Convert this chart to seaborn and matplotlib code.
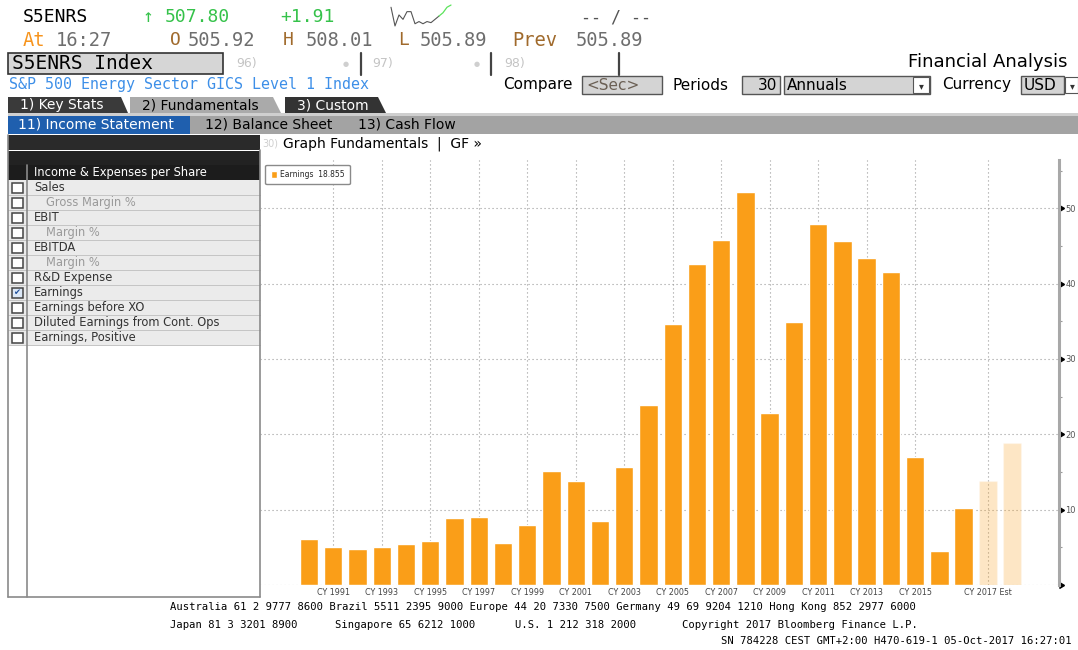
"""
S5ENRS Index - Financial Analysis (Earnings per share, annual)
Recreación de la pantalla de Bloomberg con seaborn + matplotlib.
Salida: out.png
"""

import matplotlib
matplotlib.use('Agg')
import matplotlib.pyplot as plt
import matplotlib.markers as mmarkers
from matplotlib.patches import Rectangle, Polygon, Patch
import pandas as pd
import seaborn as sns

# ── Datos ─────────────────────────────────────────────────────────────────────
YEARS = list(range(1990, 2020))
EPS = [6.1, 5.0, 4.8, 5.0, 5.4, 5.8, 8.9, 9.0, 5.6, 8.0,
       15.1, 13.8, 8.5, 15.6, 23.9, 34.6, 42.6, 45.8, 52.1, 22.8,
       34.9, 47.9, 45.6, 43.4, 41.6, 17.0, 4.5, 10.2, 13.8, 18.855]
KIND = ['Actual'] * 28 + ['Est'] * 2

TICK_YEARS = [1991, 1993, 1995, 1997, 1999, 2001, 2003, 2005, 2007,
              2009, 2011, 2013, 2015, 2018]
TICK_LABELS = ['CY 1991', 'CY 1993', 'CY 1995', 'CY 1997', 'CY 1999',
               'CY 2001', 'CY 2003', 'CY 2005', 'CY 2007', 'CY 2009',
               'CY 2011', 'CY 2013', 'CY 2015', 'CY 2017 Est']
Y_MAJOR = [0, 10, 20, 30, 40, 50]
Y_MINOR = [5, 15, 25, 35, 45, 55]

# mini gráfico intradía de la cabecera
SPARK = [22, 5, 15, 11, 18, 18, 7, 9, 7, 9, 8, 11, 14]
SPARK_LIVE = [14, 17, 22, 24]

MENU = [('Sales', True), ('Gross Margin %', False), ('EBIT', True),
        ('Margin %', False), ('EBITDA', True), ('Margin %', False),
        ('R&D Expense', True), ('Earnings', True), ('Earnings before XO', True),
        ('Diluted Earnings from Cont. Ops', True), ('Earnings, Positive', True)]
CHECKED = 'Earnings'

ORANGE = '#FA9E18'
GREEN = '#35C24A'
BROWN = '#A06A2C'
GREYTXT = '#6E6E6E'
SANS = 'DejaVu Sans'
MONO = 'DejaVu Sans Mono'

W, H = 1078, 650

sns.set_theme(style='white')
plt.rcParams['font.family'] = [SANS]

fig = plt.figure(figsize=(W / 100, H / 100), dpi=100, facecolor='white')

# capa de interfaz en coordenadas de píxel
ov = fig.add_axes([0, 0, 1, 1], zorder=0)
ov.set_xlim(0, W)
ov.set_ylim(H, 0)
ov.axis('off')


def box(x0, y0, x1, y1, fc, ec='none', lw=0.8, z=1):
    ov.add_patch(Rectangle((x0, y0), x1 - x0, y1 - y0, facecolor=fc,
                           edgecolor=ec, linewidth=lw, zorder=z))


def txt(x, y, s, size=10, color='black', mono=False, ha='left', **kw):
    ov.text(x, y, s, fontsize=size, color=color, family=MONO if mono else SANS,
            ha=ha, va='center', zorder=5, **kw)


def vline(x, y0, y1, color='#888', lw=1):
    ov.plot([x, x], [y0, y1], color=color, linewidth=lw, zorder=3)


def hline(y, x0, x1, color='#888', lw=1):
    ov.plot([x0, x1], [y, y], color=color, linewidth=lw, zorder=3)


# ── Cabecera ──────────────────────────────────────────────────────────────────
txt(23, 17, 'S5ENRS', 13, 'black', mono=True)
txt(143, 17, '↑', 13, GREEN, mono=True)
txt(165, 17, '507.80', 13, GREEN, mono=True)
txt(280, 17, '+1.91', 13, GREEN, mono=True)
txt(581, 17, '-- / --', 12, '#555', mono=True)

sp = fig.add_axes([388 / W, 1 - 27 / H, 66 / W, 23 / H], zorder=2)
sp.plot(range(len(SPARK)), SPARK, color='#555', linewidth=0.8)
sp.plot(range(len(SPARK) - 1, len(SPARK) - 1 + len(SPARK_LIVE)), SPARK_LIVE,
        color='#5BE35B', linewidth=0.9)
sp.axis('off')

txt(23, 40, 'At', 13.5, '#F7941D', mono=True)
txt(56, 40, '16:27', 13.5, GREYTXT, mono=True)
txt(170, 40, 'O', 13, BROWN, mono=True)
txt(188, 40, '505.92', 13.5, GREYTXT, mono=True)
txt(283, 40, 'H', 13, BROWN, mono=True)
txt(306, 40, '508.01', 13.5, GREYTXT, mono=True)
txt(398, 40, 'L', 13, BROWN, mono=True)
txt(420, 40, '505.89', 13.5, GREYTXT, mono=True)
txt(512, 40, 'Prev', 13.5, BROWN, mono=True)
txt(576, 40, '505.89', 13.5, GREYTXT, mono=True)

box(8, 53, 223, 74, '#D6D6D6', '#333', 1.2)
txt(12, 63.5, 'S5ENRS Index', 14, 'black', mono=True)
for lab, xl, xd, xb in [('96)', 236, 346, 361), ('97)', 372, 477, 491), ('98)', 504, None, 619)]:
    txt(xl, 63, lab, 9, '#C4C4C4')
    if xd:
        txt(xd, 64, '●', 5, '#CFCFCF', ha='center')
    vline(xb, 53, 75, '#444', 1.6)
txt(1068, 62, 'Financial Analysis', 13, 'black', ha='right')

txt(9, 85, 'S&P 500 Energy Sector GICS Level 1 Index', 10.8, '#3D8FE8', mono=True)
txt(503, 85, 'Compare', 11, 'black')
box(582, 76, 662, 94, '#D4D4D4', '#555', 1)
txt(586, 85, '<Sec>', 11, '#6B6055')
txt(673, 85, 'Periods', 11, 'black')
box(742, 76, 780, 94, '#D4D4D4', '#555', 1)
txt(777, 85, '30', 11, 'black', ha='right')
box(784, 76, 930, 94, '#D4D4D4', '#555', 1)
txt(787, 85, 'Annuals', 11, 'black')
box(913, 77, 929, 93, 'white', '#555', 0.8, z=2)
txt(921, 86, '▾', 7, '#333', ha='center')
txt(942, 85, 'Currency', 11, 'black')
box(1021, 76, 1064, 94, '#D4D4D4', '#555', 1)
txt(1024, 85, 'USD', 11, 'black')
box(1065, 77, 1078, 93, 'white', '#555', 0.8, z=2)
txt(1072, 86, '▾', 7, '#333', ha='center')

# pestañas
for pts, fc, lab, tc in [
        ([(8, 97), (121, 97), (128, 113), (8, 113)], '#3A3A3A', '1) Key Stats', 'white'),
        ([(130, 97), (273, 97), (281, 113), (130, 113)], '#AAAAAA', '2) Fundamentals', 'black'),
        ([(285, 97), (378, 97), (386, 113), (285, 113)], '#333333', '3) Custom', 'white')]:
    ov.add_patch(Polygon(pts, closed=True, facecolor=fc, edgecolor='none', zorder=1))
    txt(pts[0][0] + 12, 105.5, lab, 10, tc)
box(8, 113, W, 116, '#CFCFCF')
box(8, 116, W, 134, '#A3A3A3')
box(8, 116, 190, 134, '#1F5FAE')
txt(18, 125, '11) Income Statement', 10, 'white')
txt(205, 125, '12) Balance Sheet', 10, 'black')
txt(358, 125, '13) Cash Flow', 10, 'black')

# ── Panel izquierdo ───────────────────────────────────────────────────────────
box(8, 135, 260, 150, '#2A2A2A')
box(8, 151, 260, 165, '#222222')
box(8, 165, 260, 180, '#1C1C1C')
txt(34, 172.5, 'Income & Expenses per Share', 8.3, 'white')
for i, (name, main) in enumerate(MENU):
    y0 = 180 + 15 * i
    box(8, y0, 260, y0 + 15, '#EBEBEB')
    hline(y0 + 15, 8, 260, '#C4C4C4', 0.7)
    checked = name == CHECKED
    box(11.5, y0 + 3, 22.5, y0 + 12.5, '#DCE8F7' if checked else 'white', '#444', 1.1, z=2)
    if checked:
        txt(17, y0 + 8, '✔', 6, '#1F4F9A', ha='center')
    txt(34 if main else 46, y0 + 7.8, name, 8.3, '#333' if main else '#9A9A9A')
vline(8, 135, 597, '#8A8A8A', 1.2)
vline(27, 165, 597, '#8A8A8A', 1.2)
vline(260, 150, 597, '#8A8A8A', 1.2)
hline(597, 8, 260, '#8A8A8A', 1.2)

txt(262, 143.5, '30)', 7, '#CFCFCF')
txt(283, 143.5, 'Graph Fundamentals  |  GF »', 10, 'black')

# ── Gráfico de barras ─────────────────────────────────────────────────────────
df = pd.DataFrame({'period': [str(y) for y in YEARS], 'eps': EPS, 'kind': KIND})

ax = fig.add_axes([260 / W, 1 - 585 / H, (1059 - 260) / W, (585 - 160) / H], zorder=1)
ax.patch.set_alpha(0)
sns.barplot(data=df, x='period', y='eps', hue='kind', hue_order=['Actual', 'Est'],
            palette={'Actual': ORANGE, 'Est': ORANGE}, dodge=False, width=0.76,
            saturation=1, legend=False, ax=ax, zorder=2)
for bar in ax.containers[1]:
    bar.set_alpha(0.25)

ax.set_xlim(-2.02, 30.93)
ax.set_ylim(0, 56.4)
ax.set_xlabel('')
ax.set_ylabel('')

ax.set_xticks([YEARS.index(y) for y in TICK_YEARS])
ax.set_xticklabels(TICK_LABELS)
ax.tick_params(axis='x', length=0, pad=2.5, labelsize=5.8, labelcolor='#444')

ax.yaxis.tick_right()
ax.set_yticks(Y_MAJOR)
ax.set_yticklabels([''] + [str(v) for v in Y_MAJOR[1:]])
ax.set_yticks(Y_MINOR, minor=True)
ax.tick_params(axis='y', which='major', right=True, left=False, length=3, width=1,
               pad=1.5, labelsize=6, colors='black')
ax.tick_params(axis='y', which='major', labelcolor='#555')
ax.tick_params(axis='y', which='minor', right=True, left=False, length=2,
               width=0.8, color='#999')
for t in ax.yaxis.get_major_ticks():
    t.tick2line.set_marker(mmarkers.CARETRIGHTBASE)
    t.tick2line.set_markersize(5)
    t.tick2line.set_color('black')
    t.tick2line.set_zorder(5)

ax.set_axisbelow(True)
ax.grid(True, which='major', color='#9A9A9A', linestyle=(0, (1, 2.6)), linewidth=0.8)
for s in ['top', 'bottom', 'left']:
    ax.spines[s].set_visible(False)
ax.spines['right'].set_color('#A8A8A8')
ax.spines['right'].set_linewidth(2.2)

ax.legend(handles=[Patch(facecolor=ORANGE, label=f'Earnings  {EPS[-1]:.3f}')],
          loc='upper left', bbox_to_anchor=(0.002, 0.998), fontsize=5.5,
          frameon=True, fancybox=True, edgecolor='#8A8A8A', framealpha=1,
          handlelength=0.8, handleheight=1.0, handletextpad=0.4, borderpad=0.7)

# ── Pie de página ─────────────────────────────────────────────────────────────
txt(170, 606.5, 'Australia 61 2 9777 8600 Brazil 5511 2395 9000 Europe 44 20 7330 7500 '
    'Germany 49 69 9204 1210 Hong Kong 852 2977 6000', 7.6, 'black', mono=True)
txt(170, 624.5, 'Japan 81 3 3201 8900', 7.6, 'black', mono=True)
txt(335, 624.5, 'Singapore 65 6212 1000', 7.6, 'black', mono=True)
txt(515, 624.5, 'U.S. 1 212 318 2000', 7.6, 'black', mono=True)
txt(682, 624.5, 'Copyright 2017 Bloomberg Finance L.P.', 7.6, 'black', mono=True)
txt(1072, 641.5, 'SN 784228 CEST GMT+2:00 H470-619-1 05-Oct-2017 16:27:01', 7.6,
    'black', mono=True, ha='right')

fig.savefig('out.png', dpi=100, facecolor='white')
